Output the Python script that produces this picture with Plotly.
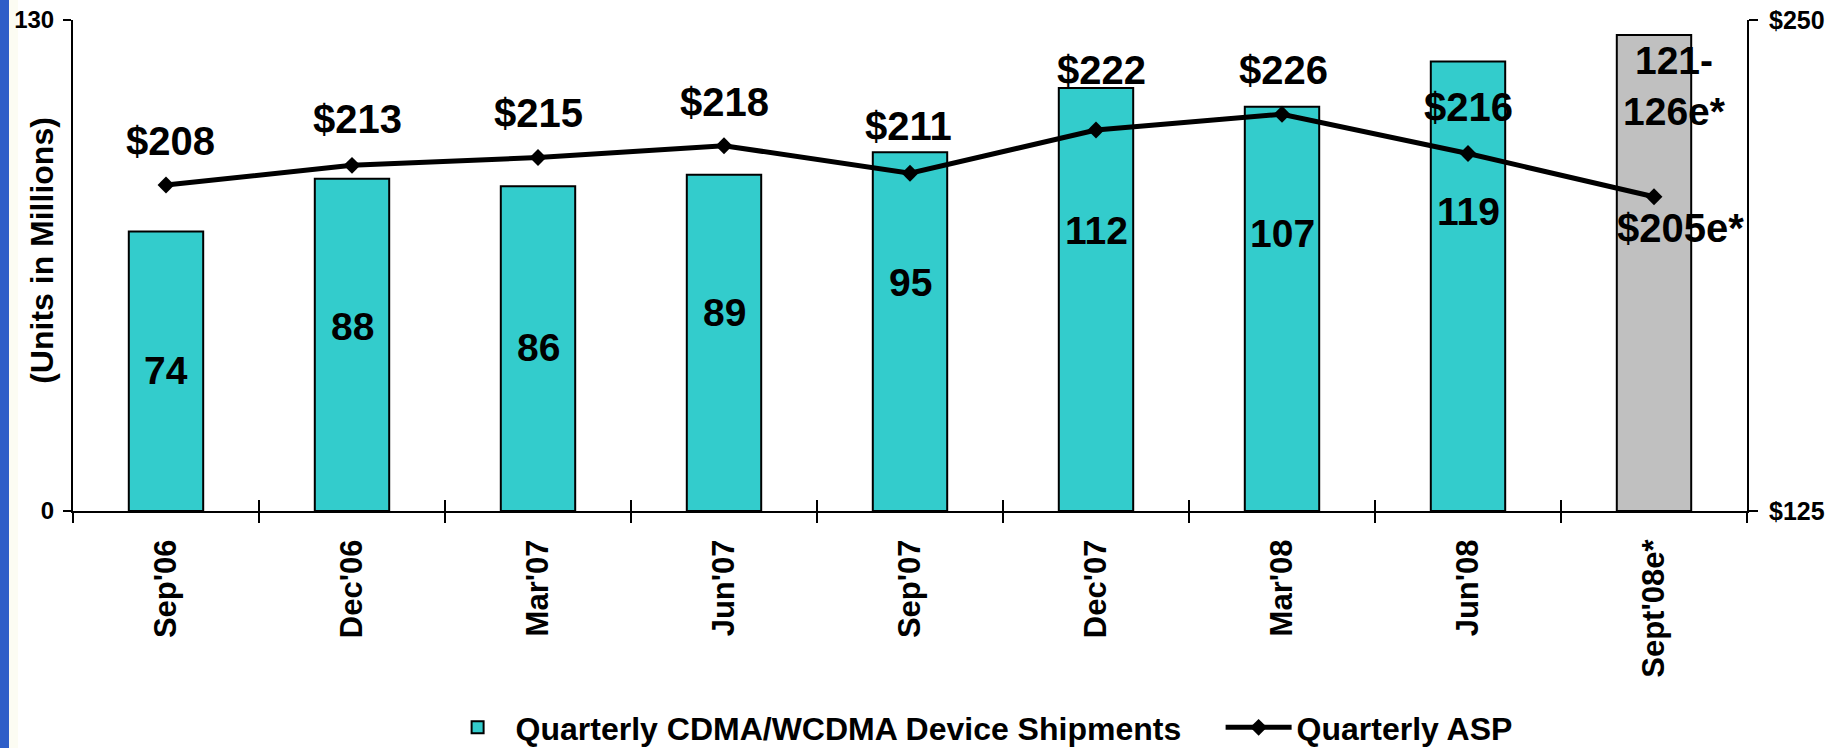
import plotly.graph_objects as go

categories = ["Sep'06", "Dec'06", "Mar'07", "Jun'07", "Sep'07", "Dec'07", "Mar'08", "Jun'08", "Sept'08e*"]
shipments = [74, 88, 86, 89, 95, 112, 107, 119, 126]
shipment_labels = ["74", "88", "86", "89", "95", "112", "107", "119", "121-<br>126e*"]
asp = [208, 213, 215, 218, 211, 222, 226, 216, 205]
asp_labels = ["$208", "$213", "$215", "$218", "$211", "$222", "$226", "$216", "$205e*"]

# label placement (styling, not data)
shipment_label_y = [37.1, 48.8, 43.2, 52.5, 60.5, 74.4, 73.5, 79.3, 112.4]
shipment_label_xshift = [0, 0, 0, 0, 0, 0, 0, 0, 20]
asp_label_yshift = [44, 46, 44, 44, 47, 60, 44, 47, -31]
asp_label_xshift = [4, 5, 0, 0, -2, 5, 1, 0, 26]

TEAL = "#33CCCC"
GRAY = "#C0C0C0"
FONT = "Liberation Sans, Arial, sans-serif"
bar_colors = [TEAL] * 8 + [GRAY]

fig = go.Figure()
fig.add_trace(go.Bar(
    x=categories, y=shipments, name="Quarterly CDMA/WCDMA Device Shipments",
    marker=dict(color=bar_colors, line=dict(color="black", width=2)),
    width=0.4, yaxis="y", xaxis="x", hoverinfo="skip",
))
fig.add_trace(go.Scatter(
    x=categories, y=asp, name="Quarterly ASP", mode="lines+markers",
    line=dict(color="black", width=5),
    marker=dict(symbol="diamond", size=13, color="black"),
    yaxis="y2", xaxis="x",
))
# helper traces for the inner halves of the crossing tick marks
fig.add_trace(go.Scatter(x=categories, y=[None] * len(categories), xaxis="x3", yaxis="y3",
                         showlegend=False, hoverinfo="skip", mode="lines"))
fig.add_trace(go.Scatter(x=categories, y=[None] * len(categories), xaxis="x", yaxis="y4",
                         showlegend=False, hoverinfo="skip", mode="lines"))

annotations = []
for i, c in enumerate(categories):
    annotations.append(dict(
        x=c, y=shipment_label_y[i], xref="x", yref="y", text=shipment_labels[i],
        showarrow=False, xshift=shipment_label_xshift[i],
        font=dict(family=FONT, size=39, color="black", weight="bold"),
    ))
    annotations.append(dict(
        x=c, y=asp[i], xref="x", yref="y2", text=asp_labels[i],
        showarrow=False, yshift=asp_label_yshift[i], xshift=asp_label_xshift[i],
        font=dict(family=FONT, size=40, color="black", weight="bold"),
    ))
annotations.append(dict(
    x=-0.0185, y=0.53, xref="paper", yref="paper", text="(Units in Millions)",
    textangle=-90, showarrow=False, xanchor="center", yanchor="middle",
    font=dict(family=FONT, size=32, color="black", weight="bold"),
))

axis_common = dict(showgrid=False, zeroline=False, showline=True, linecolor="black",
                   linewidth=2, tickcolor="black", tickwidth=2, automargin=False)
inner_common = dict(showticklabels=False, showgrid=False, zeroline=False, showline=False,
                    tickcolor="black", tickwidth=2, automargin=False)

fig.update_layout(
    width=1830, height=748,
    margin=dict(l=73, r=83, t=20, b=237, autoexpand=False),
    paper_bgcolor="white", plot_bgcolor="white",
    font=dict(family=FONT, color="black"),
    showlegend=True,
    legend=dict(orientation="h", x=0.219, xanchor="left", y=-0.441, yanchor="middle",
                font=dict(family=FONT, size=32, color="black", weight="bold"),
                itemwidth=66, entrywidth=700, traceorder="normal",
                bgcolor="rgba(0,0,0,0)"),
    xaxis=dict(type="category", range=[-0.5, 8.5], ticks="outside", ticklen=10,
               tickson="boundaries", tickangle=-90, ticklabelstandoff=14,
               tickfont=dict(family=FONT, size=31, color="black", weight="bold"),
               anchor="y", **axis_common),
    xaxis3=dict(type="category", range=[-0.5, 8.5], overlaying="x", anchor="y",
                ticks="inside", ticklen=11, tickson="boundaries", **inner_common),
    yaxis=dict(range=[0, 130], tickvals=[0, 130], ticks="outside", ticklen=8,
               ticklabelstandoff=4,
               tickfont=dict(family=FONT, size=24, color="black", weight="bold"),
               anchor="x", **axis_common),
    yaxis2=dict(range=[125, 250], tickvals=[125, 250], ticktext=["$125", "$250"],
                overlaying="y", side="right", anchor="x", ticks="outside", ticklen=9,
                ticklabelstandoff=6,
                tickfont=dict(family=FONT, size=25, color="black", weight="bold"),
                **axis_common),
    yaxis3=dict(range=[0, 130], tickvals=[0, 130], overlaying="y", side="left", anchor="x3",
                ticks="inside", ticklen=9, **inner_common),
    yaxis4=dict(range=[125, 250], tickvals=[125, 250], overlaying="y", side="right", anchor="x",
                ticks="inside", ticklen=9, **inner_common),
    annotations=annotations,
    shapes=[
        dict(type="rect", xref="paper", yref="paper", x0=-73 / 1674, x1=(9 - 73) / 1674,
             y0=-237 / 491, y1=1 + 20 / 491, fillcolor="#2E5EC8", line=dict(width=0),
             layer="above"),
        dict(type="rect", xref="paper", yref="paper", x0=(9 - 73) / 1674, x1=(18 - 73) / 1674,
             y0=-237 / 491, y1=1 + 20 / 491, fillcolor="#FCFCF3", line=dict(width=0),
             layer="below"),
    ],
)

fig.write_html("out.html", config={"displayModeBar": False},
               post_script="document.body.style.margin='0';document.body.style.overflow='hidden';")
